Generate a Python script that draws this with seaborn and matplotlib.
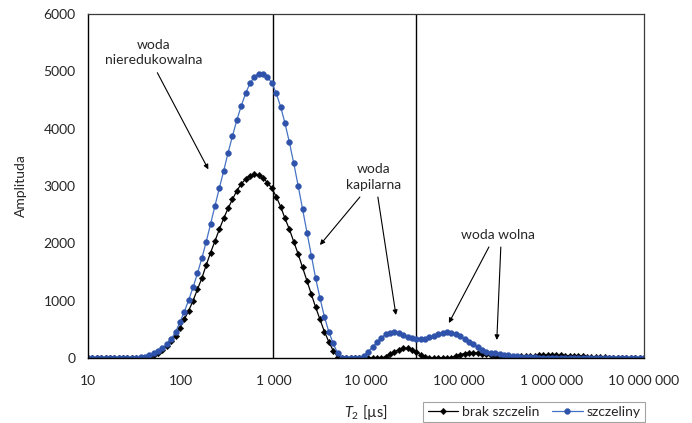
import numpy as np
import pandas as pd
import matplotlib
matplotlib.use("Agg")
import matplotlib.pyplot as plt
import seaborn as sns

# ---- data -------------------------------------------------------------
# 128 logarithmic T2 bins between 10 us and 10 s
t2_us = np.logspace(1, 7, 128)

brak_szczelin = [
    0, 0, 0, 0, 0, 0, 0, 0, 0, 0, 0, 0, 0,
    8, 25, 55, 95, 145, 210, 290, 392, 530, 674, 825, 1000, 1198, 1390,
    1622, 1837, 2040, 2244, 2436, 2611, 2768, 2918, 3035, 3122, 3180, 3204,
    3186, 3140, 3058, 2959, 2814, 2639, 2436, 2244, 2029, 1814, 1582, 1349,
    1116, 884, 674, 459, 285, 128, 23,
    0, 0, 0, 0, 0, 0, 0, 0, 0, 0,
    23, 64, 110, 145, 168, 166, 145, 105, 58, 23,
    0, 0, 0, 0, 0,
    5, 35, 60, 78, 88, 90, 85, 75, 62, 48, 32, 22, 16, 16, 20, 26, 30, 34,
    38, 42, 45, 47, 48, 48, 47, 45, 42, 39, 35, 31, 27, 23, 19, 15, 12, 9,
    6, 4, 2, 1,
    0, 0, 0, 0, 0,
]

szczeliny = [
    0, 0, 0, 0, 0, 0, 0, 0, 0, 0, 0,
    3, 10, 20, 45, 80, 125, 172, 242, 335, 450, 630, 808, 1011, 1233, 1477,
    1738, 2028, 2337, 2656, 2959, 3267, 3581, 3872, 4151, 4395, 4616, 4791,
    4907, 4958, 4962, 4895, 4802, 4616, 4383, 4093, 3762, 3395, 3005, 2599,
    2186, 1779, 1390, 1041, 720, 459, 256, 88, 5, 0, 0, 0, 5, 41, 110, 192,
    273, 354, 413, 442, 447, 430, 401, 372, 343, 331, 325, 337, 360, 389,
    418, 442, 453, 442, 413, 385, 331, 280, 240, 190, 145, 112, 92, 80, 70,
    58, 50, 42, 33, 26, 20, 15, 10, 7, 4, 2,
    0, 0, 0, 0, 0, 0, 0, 0, 0, 0, 0, 0, 0, 0, 0, 0, 0, 0, 0, 0, 0, 0,
]

series_names = ["brak szczelin", "szczeliny"]
x_ticks = [1e1, 1e2, 1e3, 1e4, 1e5, 1e6, 1e7]
x_tick_labels = ["10", "100", "1 000", "10 000", "100 000", "1 000 000", "10 000 000"]
y_ticks = [0, 1000, 2000, 3000, 4000, 5000, 6000]
cutoffs_us = [1000, 35000]   # boundaries between water types

df = pd.DataFrame({
    "T2": np.concatenate([t2_us, t2_us]),
    "Amplituda": brak_szczelin + szczeliny,
    "seria": [series_names[0]] * len(t2_us) + [series_names[1]] * len(t2_us),
})

# ---- style ------------------------------------------------------------
sns.set_style("white")
plt.rcParams["font.family"] = ["Lato", "DejaVu Sans"]
plt.rcParams["mathtext.fontset"] = "custom"
plt.rcParams["mathtext.rm"] = "Lato"
plt.rcParams["mathtext.it"] = "Lato:italic"
text_color = "#262626"
fs = 10

fig = plt.figure(figsize=(6.92, 4.23), dpi=100)
ax = fig.add_axes([88 / 692, 1 - 358 / 423, 556 / 692, 344 / 423])

sns.lineplot(data=df[df.seria == series_names[0]], x="T2", y="Amplituda",
             ax=ax, estimator=None, sort=False, color="black", lw=0.9,
             marker="D", markersize=3.3, markerfacecolor="black",
             markeredgecolor="black", markeredgewidth=0.3,
             label=series_names[0])
sns.lineplot(data=df[df.seria == series_names[1]], x="T2", y="Amplituda",
             ax=ax, estimator=None, sort=False, color="#4472C4", lw=0.9,
             marker="o", markersize=4.2, markerfacecolor="#2F52AA",
             markeredgecolor="#2F52AA", markeredgewidth=0.3,
             label=series_names[1])

for c in cutoffs_us:
    ax.axvline(c, color="black", lw=1.0, zorder=1)

ax.set_xscale("log")
ax.set_xlim(x_ticks[0], x_ticks[-1])
ax.set_ylim(0, 6000)
ax.set_xticks(x_ticks)
ax.set_xticklabels(x_tick_labels)
ax.minorticks_off()
ax.set_yticks(y_ticks)
ax.set_yticklabels([str(v) for v in y_ticks])
ax.tick_params(axis="both", direction="out", length=5, width=0.8,
               colors="black", labelcolor=text_color, labelsize=fs, pad=4)
ax.tick_params(axis="x", pad=7)

for side in ["left", "bottom"]:
    ax.spines[side].set_color("black")
    ax.spines[side].set_linewidth(1.0)
for side in ["top", "right"]:
    ax.spines[side].set_color("#3a3a3a")
    ax.spines[side].set_linewidth(0.9)

ax.set_xlabel(r"$T_2$ [µs]", fontsize=fs + 0.5, color=text_color, labelpad=12)
ax.set_ylabel("Amplituda", fontsize=fs, color=text_color, labelpad=12)

# ---- annotations ------------------------------------------------------
arrow = dict(arrowstyle="-|>", color="black", lw=0.8, mutation_scale=7,
             shrinkA=0, shrinkB=0)
txt = dict(fontsize=fs, color=text_color, ha="center", va="center",
           linespacing=1.35)

ax.text(50.6, 5330, "woda\nnieredukowalna", **txt)
ax.annotate("", xy=(199, 3290), xytext=(56, 4976), arrowprops=arrow)

ax.text(12170, 3160, "woda\nkapilarna", **txt)
ax.annotate("", xy=(3185, 1971), xytext=(8590, 2808), arrowprops=arrow)
ax.annotate("", xy=(21040, 750), xytext=(13430, 2808), arrowprops=arrow)

ax.text(265000, 2145, "woda wolna", **txt)
ax.annotate("", xy=(78400, 610), xytext=(212000, 1936), arrowprops=arrow)
ax.annotate("", xy=(258000, 314), xytext=(285000, 1936), arrowprops=arrow)

# ---- legend -----------------------------------------------------------
ax.get_legend().remove()
handles, labels = ax.get_legend_handles_labels()
leg = fig.legend(handles, labels, loc="lower right", ncol=2,
                 bbox_to_anchor=(645 / 692, 1 / 423), frameon=True,
                 fancybox=False, edgecolor="#8c8c8c", fontsize=fs,
                 numpoints=1, handlelength=2.2, handletextpad=0.3,
                 columnspacing=0.9, borderpad=0.3, borderaxespad=0)
leg.get_frame().set_linewidth(0.8)
for t in leg.get_texts():
    t.set_color(text_color)

fig.savefig("out.png", dpi=100)
